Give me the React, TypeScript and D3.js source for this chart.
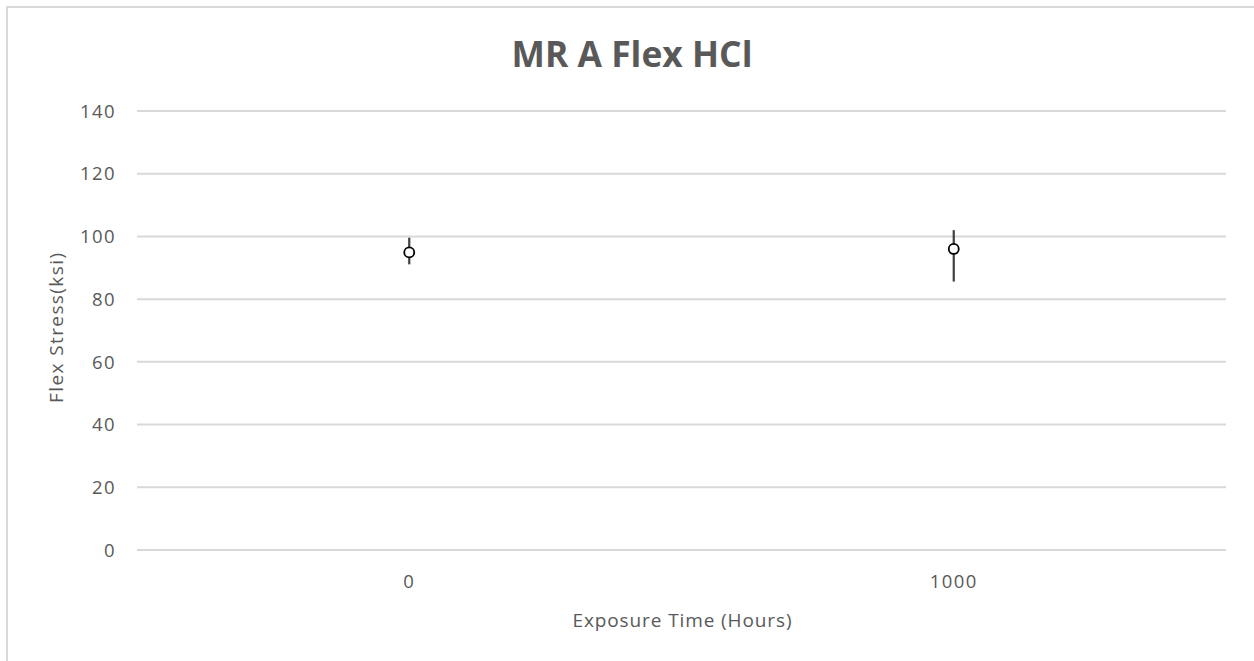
import React, { useEffect, useRef } from 'react';
import * as d3 from 'd3';

// exposure times (hours) and flex stress readings (ksi)
const categories = ['0', '1000'];
const meanStress = [94.9, 96.0];
const highStress = [99.6, 102.0];
const lowStress = [91.1, 85.6];
const yTicks = [0, 20, 40, 60, 80, 100, 120, 140];

const W = 1254, H = 661;

const App = () => {
  const svgRef = useRef<SVGSVGElement>(null);

  useEffect(() => {
    const svg = d3.select(svgRef.current);
    svg.selectAll('*').remove();

    const margin = { top: 111, right: 28, bottom: 111, left: 137 };
    const font = "'Open Sans', 'Noto Sans', sans-serif";
    const grey = '#595959';

    // chart frame (only top and left edges visible)
    svg.append('path')
      .attr('d', `M7,${H} L7,7 L${W},7`)
      .attr('fill', 'none')
      .attr('stroke', '#d9d9d9')
      .attr('stroke-width', 2);

    const x = d3.scaleBand()
      .domain(categories)
      .range([margin.left, W - margin.right]);

    const y = d3.scaleLinear()
      .domain([0, 140])
      .range([H - margin.bottom, margin.top]);

    // gridlines
    svg.append('g')
      .selectAll('line')
      .data(yTicks)
      .enter()
      .append('line')
        .attr('x1', margin.left)
        .attr('x2', W - margin.right)
        .attr('y1', d => y(d))
        .attr('y2', d => y(d))
        .attr('stroke', '#d9d9d9')
        .attr('stroke-width', 2);

    // y tick labels
    svg.append('g')
      .selectAll('text')
      .data(yTicks)
      .enter()
      .append('text')
        .attr('x', 116)
        .attr('y', d => y(d))
        .attr('dy', '0.36em')
        .attr('text-anchor', 'end')
        .attr('font-family', font)
        .attr('font-size', 18.5)
        .attr('letter-spacing', 1.4)
        .attr('fill', grey)
        .text(d => d);

    // x tick labels
    svg.append('g')
      .selectAll('text')
      .data(categories)
      .enter()
      .append('text')
        .attr('x', d => x(d)! + x.bandwidth() / 2)
        .attr('y', 588)
        .attr('text-anchor', 'middle')
        .attr('font-family', font)
        .attr('font-size', 18.5)
        .attr('letter-spacing', 1.4)
        .attr('fill', grey)
        .text(d => d);

    const pts = categories.map((c, i) => ({ c, m: meanStress[i], hi: highStress[i], lo: lowStress[i] }));
    const cx = (d: any) => x(d.c)! + x.bandwidth() / 2;

    // error bars
    svg.append('g')
      .selectAll('line')
      .data(pts)
      .enter()
      .append('line')
        .attr('x1', cx)
        .attr('x2', cx)
        .attr('y1', d => y(d.hi))
        .attr('y2', d => y(d.lo))
        .attr('stroke', '#404040')
        .attr('stroke-width', 2.2);

    // markers
    svg.append('g')
      .selectAll('circle')
      .data(pts)
      .enter()
      .append('circle')
        .attr('cx', cx)
        .attr('cy', d => y(d.m))
        .attr('r', 5)
        .attr('fill', '#fff')
        .attr('stroke', '#000')
        .attr('stroke-width', 1.8);

    // title
    svg.append('text')
      .attr('x', 632)
      .attr('y', 67)
      .attr('text-anchor', 'middle')
      .attr('font-family', font)
      .attr('font-weight', 'bold')
      .attr('font-size', 35)
      .attr('textLength', 241)
      .attr('lengthAdjust', 'spacingAndGlyphs')
      .attr('fill', grey)
      .text('MR A Flex HCl');

    // axis titles
    svg.append('text')
      .attr('transform', `translate(63,328) rotate(-90)`)
      .attr('text-anchor', 'middle')
      .attr('font-family', font)
      .attr('font-size', 19)
      .attr('textLength', 150)
      .attr('lengthAdjust', 'spacing')
      .attr('fill', grey)
      .text('Flex Stress(ksi)');

    svg.append('text')
      .attr('x', 682)
      .attr('y', 627)
      .attr('text-anchor', 'middle')
      .attr('font-family', font)
      .attr('font-size', 19)
      .attr('textLength', 219)
      .attr('lengthAdjust', 'spacing')
      .attr('fill', grey)
      .text('Exposure Time (Hours)');
  }, []);

  return (
    <svg ref={svgRef} width={W} height={H}
      style={{ position: 'absolute', left: 0, top: 0, background: '#fff' }} />
  );
};

export default App;
